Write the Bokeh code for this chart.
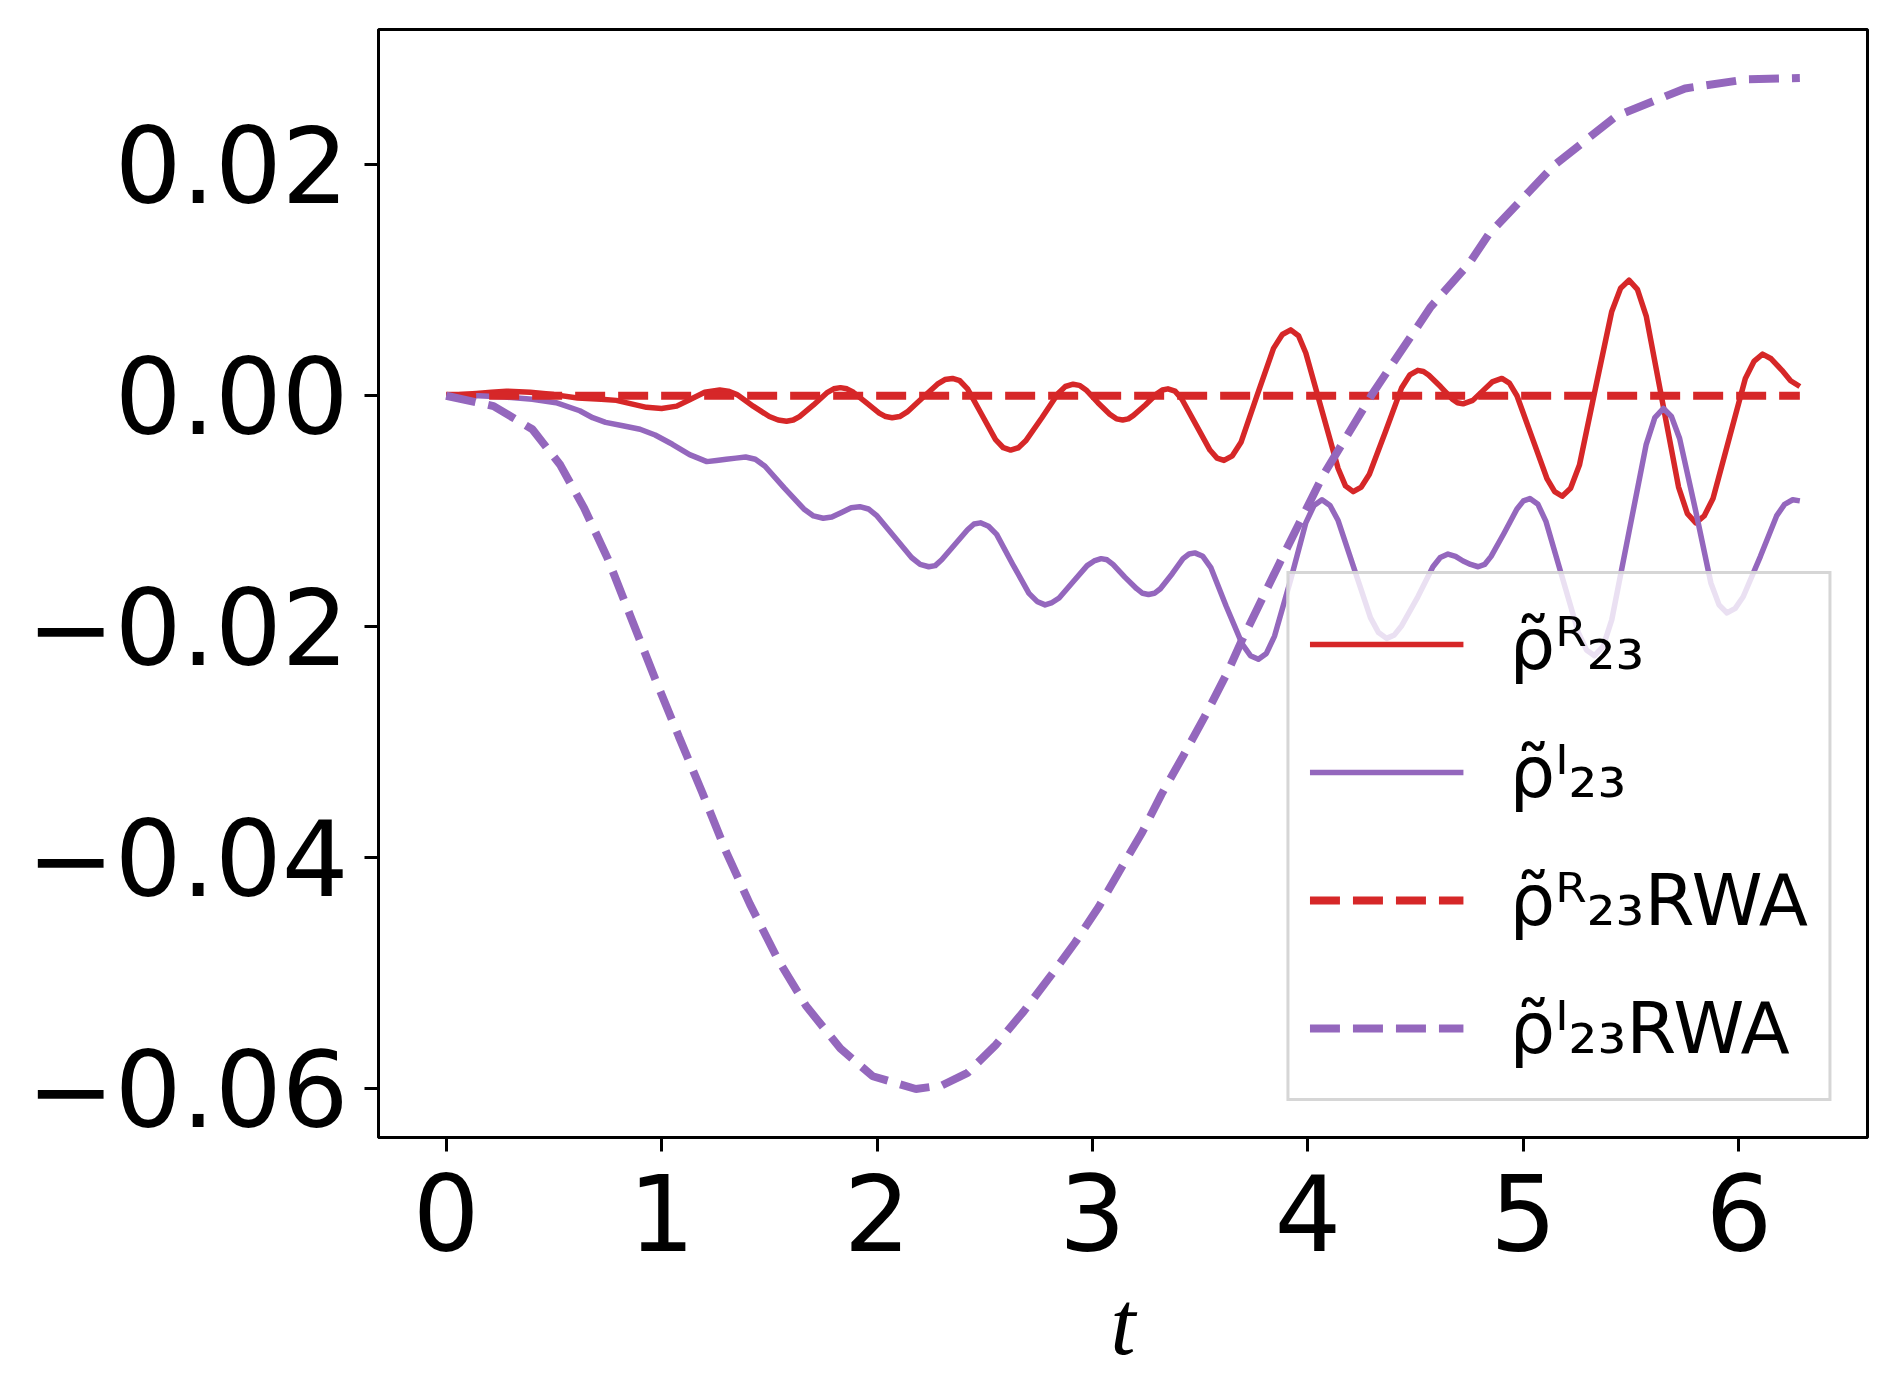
from bokeh.plotting import figure
from bokeh.models import Range1d, FixedTicker, Legend, LegendItem
from bokeh.embed import file_html
from bokeh.resources import INLINE

RED = "#d62728"
PURPLE = "#9467bd"

# ---- data ----
t_re = [0.00, 0.07, 0.14, 0.21, 0.28, 0.39, 0.50, 0.61, 0.72, 0.79, 0.86, 0.93,
        1.00, 1.07, 1.135, 1.20, 1.27, 1.309, 1.35, 1.425, 1.50, 1.541, 1.58, 1.611,
        1.64, 1.705, 1.77, 1.799, 1.83, 1.86, 1.89, 1.95, 2.01, 2.04, 2.07, 2.105,
        2.14, 2.21, 2.28, 2.315, 2.35, 2.384, 2.42, 2.485, 2.55, 2.586, 2.62, 2.656,
        2.69, 2.765, 2.84, 2.874, 2.91, 2.939, 2.97, 3.025, 3.08, 3.111, 3.14, 3.166,
        3.19, 3.245, 3.30, 3.324, 3.35, 3.383, 3.415, 3.48, 3.545, 3.578, 3.61, 3.649,
        3.69, 3.765, 3.84, 3.881, 3.92, 3.956, 3.99, 4.065, 4.14, 4.174, 4.21, 4.2475,
        4.285, 4.36, 4.435, 4.4725, 4.51, 4.536, 4.56, 4.615, 4.67, 4.694, 4.72, 4.765,
        4.81, 4.855, 4.90, 4.935, 4.97, 5.04, 5.11, 5.145, 5.18, 5.219, 5.26, 5.335,
        5.41, 5.451, 5.49, 5.529, 5.57, 5.645, 5.72, 5.761, 5.80, 5.839, 5.88, 5.955,
        6.03, 6.071, 6.11, 6.15, 6.20, 6.24, 6.283]
rho_re = [0.0000, 0.0001, 0.0002, 0.0003, 0.0004, 0.0003, 0.0001, -0.0002, -0.0003, -0.0004, -0.0007, -0.0010,
          -0.0011, -0.0009, -0.0003, 0.0003, 0.0005, 0.0004, 0.0001, -0.0009, -0.0018, -0.0021, -0.0022, -0.0021,
          -0.0018, -0.0008, 0.0003, 0.0006, 0.0007, 0.0006, 0.0003, -0.0006, -0.0015, -0.0018, -0.0019, -0.0018,
          -0.0014, -0.0002, 0.0010, 0.0014, 0.0015, 0.0013, 0.0006, -0.0016, -0.0038, -0.0045, -0.0047, -0.0045,
          -0.0039, -0.0019, 0.0002, 0.0008, 0.0010, 0.0009, 0.0005, -0.0006, -0.0016, -0.0020, -0.0021, -0.0020,
          -0.0017, -0.0008, 0.0002, 0.0005, 0.0006, 0.0004, -0.0003, -0.0025, -0.0047, -0.0054, -0.0056, -0.0052,
          -0.0040, 0.0001, 0.0041, 0.0053, 0.0057, 0.0052, 0.0037, -0.0013, -0.0063, -0.0078, -0.0083, -0.0079,
          -0.0068, -0.0031, 0.0007, 0.0018, 0.0022, 0.0021, 0.0018, 0.0008, -0.0003, -0.0006, -0.0007, -0.0004,
          0.0004, 0.0012, 0.0015, 0.0011, 0.0000, -0.0036, -0.0072, -0.0083, -0.0087, -0.0080, -0.0060, 0.0007,
          0.0073, 0.0093, 0.0100, 0.0092, 0.0069, -0.0005, -0.0079, -0.0102, -0.0110, -0.0104, -0.0089, -0.0037,
          0.0015, 0.0030, 0.0036, 0.0032, 0.0022, 0.0013, 0.0008]

t_im = [0.00, 0.15, 0.27, 0.40, 0.51, 0.62, 0.68, 0.74, 0.82, 0.90, 0.97, 1.05,
        1.13, 1.21, 1.255, 1.30, 1.345, 1.39, 1.435, 1.48, 1.57, 1.66, 1.705, 1.75,
        1.79, 1.835, 1.88, 1.92, 1.96, 2.00, 2.08, 2.16, 2.20, 2.24, 2.27, 2.30,
        2.36, 2.42, 2.45, 2.48, 2.5175, 2.555, 2.63, 2.705, 2.7425, 2.78, 2.8125, 2.845,
        2.91, 2.975, 3.0075, 3.04, 3.0675, 3.095, 3.15, 3.205, 3.2325, 3.26, 3.287, 3.315,
        3.37, 3.42, 3.448, 3.475, 3.512, 3.55, 3.62, 3.695, 3.733, 3.77, 3.807, 3.845,
        3.92, 3.99, 4.028, 4.065, 4.1025, 4.14, 4.215, 4.29, 4.3275, 4.365, 4.401, 4.435,
        4.51, 4.58, 4.614, 4.65, 4.685, 4.72, 4.755, 4.79, 4.82, 4.85, 4.91, 4.97,
        5.00, 5.03, 5.0675, 5.105, 5.18, 5.255, 5.2925, 5.33, 5.37, 5.41, 5.49, 5.57,
        5.61, 5.65, 5.687, 5.725, 5.80, 5.87, 5.908, 5.945, 5.983, 6.02, 6.10, 6.175,
        6.212, 6.25, 6.283]
rho_im = [0.0000, 0.0000, -0.0001, -0.0003, -0.0006, -0.0013, -0.0019, -0.0023, -0.0026, -0.0029, -0.0034, -0.0042,
          -0.0051, -0.0057, -0.0056, -0.0055, -0.0054, -0.0053, -0.0055, -0.0061, -0.0080, -0.0098, -0.0104, -0.0106,
          -0.0105, -0.0101, -0.0097, -0.0096, -0.0098, -0.0104, -0.0122, -0.0140, -0.0146, -0.0148, -0.0147, -0.0142,
          -0.0129, -0.0116, -0.0111, -0.0110, -0.0113, -0.0120, -0.0146, -0.0171, -0.0178, -0.0181, -0.0179, -0.0175,
          -0.0161, -0.0147, -0.0143, -0.0141, -0.0142, -0.0146, -0.0157, -0.0167, -0.0171, -0.0172, -0.0171, -0.0167,
          -0.0154, -0.0141, -0.0137, -0.0136, -0.0139, -0.0149, -0.0182, -0.0215, -0.0225, -0.0228, -0.0223, -0.0208,
          -0.0159, -0.0110, -0.0095, -0.0090, -0.0095, -0.0108, -0.0150, -0.0192, -0.0205, -0.0210, -0.0207, -0.0199,
          -0.0174, -0.0148, -0.0140, -0.0137, -0.0139, -0.0143, -0.0146, -0.0148, -0.0146, -0.0139, -0.0119, -0.0098,
          -0.0091, -0.0089, -0.0094, -0.0109, -0.0157, -0.0205, -0.0220, -0.0225, -0.0217, -0.0194, -0.0118, -0.0042,
          -0.0019, -0.0011, -0.0018, -0.0037, -0.0100, -0.0162, -0.0181, -0.0188, -0.0184, -0.0174, -0.0139, -0.0104,
          -0.0094, -0.0090, -0.0091]

t_rwa_re = [0.0, 6.283]
rho_re_rwa = [0.0, 0.0]

t_rwa_im = [0.00, 0.22, 0.40, 0.53, 0.64, 0.75, 0.86, 0.97, 1.08, 1.19, 1.30, 1.41, 1.54, 1.67,
            1.83, 1.98, 2.18, 2.30, 2.42, 2.55, 2.68, 2.81, 2.92, 3.03, 3.12, 3.23, 3.32,
            3.42, 3.52, 3.63, 3.69, 3.87, 4.07, 4.30, 4.57, 4.75, 4.84, 5.14, 5.43, 5.75,
            6.04, 6.283]
rho_im_rwa = [0.0000, -0.0009, -0.0029, -0.0060, -0.0097, -0.0141, -0.0193, -0.0245, -0.0295, -0.0344, -0.0395, -0.0440, -0.0488, -0.0528,
              -0.0565, -0.0589, -0.0600, -0.0597, -0.0586, -0.0562, -0.0533, -0.0501, -0.0473, -0.0442, -0.0413, -0.0378, -0.0345,
              -0.0312, -0.0278, -0.0238, -0.0213, -0.0144, -0.0069, 0.0002, 0.0077, 0.0115, 0.0140, 0.0199, 0.0242, 0.0266,
              0.0274, 0.0275]

x_ticks = [0, 1, 2, 3, 4, 5, 6]
y_ticks = [-0.06, -0.04, -0.02, 0.0, 0.02]
y_tick_labels = ["\u22120.06", "\u22120.04", "\u22120.02", "0.00", "0.02"]

labels = ["\u03c1\u0303\u1d3f\u2082\u2083",
          "\u03c1\u0303\u1d35\u2082\u2083",
          "\u03c1\u0303\u1d3f\u2082\u2083RWA",
          "\u03c1\u0303\u1d35\u2082\u2083RWA"]

# ---- figure ----
p = figure(width=1880, height=1396, output_backend="svg", toolbar_location=None,
           x_range=Range1d(-0.314, 6.597), y_range=Range1d(-0.0642, 0.0317),
           min_border_left=378, min_border_right=13, min_border_top=29, min_border_bottom=259)
p.background_fill_color = "white"
p.border_fill_color = "white"
p.xgrid.visible = False
p.ygrid.visible = False
p.outline_line_color = "black"
p.outline_line_width = 3
p.outline_line_alpha = 1.0

r1 = p.line(t_re, rho_re, line_color=RED, line_width=5.5, line_join="round")
r2 = p.line(t_im, rho_im, line_color=PURPLE, line_width=5.5, line_join="round")
r3 = p.line(t_rwa_re, rho_re_rwa, line_color=RED, line_width=8, line_dash="30 13")
r4 = p.line(t_rwa_im, rho_im_rwa, line_color=PURPLE, line_width=8, line_dash="30 13")

for ax in (p.xaxis[0], p.yaxis[0]):
    ax.axis_line_width = 3
    ax.axis_line_color = "black"
    ax.major_tick_line_width = 3
    ax.major_tick_out = 14
    ax.major_tick_in = 0
    ax.minor_tick_line_color = None
    ax.major_label_text_font = "DejaVu Sans"
    ax.major_label_text_font_style = "normal"
    ax.major_label_text_font_size = "105px"
    ax.major_label_text_color = "black"

p.xaxis.ticker = FixedTicker(ticks=x_ticks)
p.yaxis.ticker = FixedTicker(ticks=y_ticks)
p.yaxis.major_label_overrides = {v: s for v, s in zip(y_ticks, y_tick_labels)}
p.xaxis.major_label_standoff = 22
p.yaxis.major_label_standoff = 16

p.xaxis.axis_label = "t"
p.xaxis.axis_label_text_font = "Liberation Serif"
p.xaxis.axis_label_text_font_style = "italic"
p.xaxis.axis_label_text_font_size = "90px"
p.xaxis.axis_label_text_color = "black"
p.xaxis.axis_label_standoff = 20

legend = Legend(items=[LegendItem(label=labels[0], renderers=[r1]),
                       LegendItem(label=labels[1], renderers=[r2]),
                       LegendItem(label=labels[2], renderers=[r3]),
                       LegendItem(label=labels[3], renderers=[r4])],
                location="bottom_right")
legend.label_text_font = "DejaVu Sans"
legend.label_text_font_size = "72px"
legend.label_text_color = "black"
legend.glyph_width = 154
legend.glyph_height = 100
legend.label_height = 100
legend.spacing = 28
legend.padding = 20
legend.margin = 36
legend.label_standoff = 46
legend.border_line_color = "#cccccc"
legend.border_line_width = 3
legend.border_line_alpha = 0.8
legend.background_fill_color = "white"
legend.background_fill_alpha = 0.8
p.add_layout(legend)

open("out.html", "w").write(file_html(p, INLINE))
